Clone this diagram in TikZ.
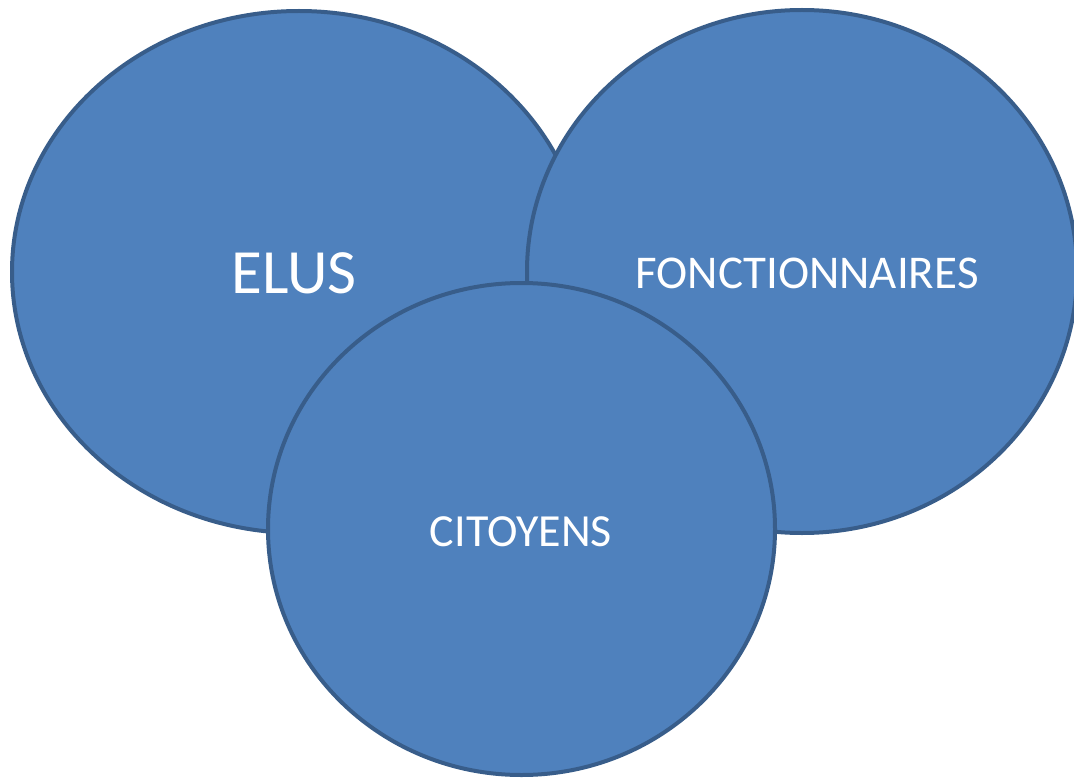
\documentclass[tikz,border=0pt]{standalone}
\usepackage{fontspec}
\setmainfont{Carlito}
\usetikzlibrary{shapes.geometric}
\definecolor{discfill}{HTML}{4F81BD}
\definecolor{discline}{HTML}{385D8A}
\begin{document}
\begin{tikzpicture}[x=1pt,y=-1pt,
  disc/.style={ellipse,draw=discline,fill=discfill,line width=4pt,inner sep=0pt},
  disclabel/.style={text=white,inner sep=0pt,anchor=center}]
  \useasboundingbox (0,0) rectangle (1074,781);
  % three overlapping groups, back to front
  \node[disc,minimum width=574pt,minimum height=522pt] (elus) at (299,272) {};
  \node[disc,minimum width=550pt,minimum height=523pt] (fonct) at (802,271.5) {};
  \node[disc,minimum width=507pt,minimum height=492pt] (citoy) at (521.5,529) {};
  % labels
  \node[disclabel,font=\fontsize{63}{63}\selectfont] (elusT) at (294,273) {ELUS};
  \node[disclabel,font=\fontsize{47}{47}\selectfont] (fonctT) at (807,273) {FONCTIONNAIRES};
  \node[disclabel,font=\fontsize{46}{46}\selectfont] (citoyT) at (521,532) {CITOYENS};
\end{tikzpicture}
\end{document}
